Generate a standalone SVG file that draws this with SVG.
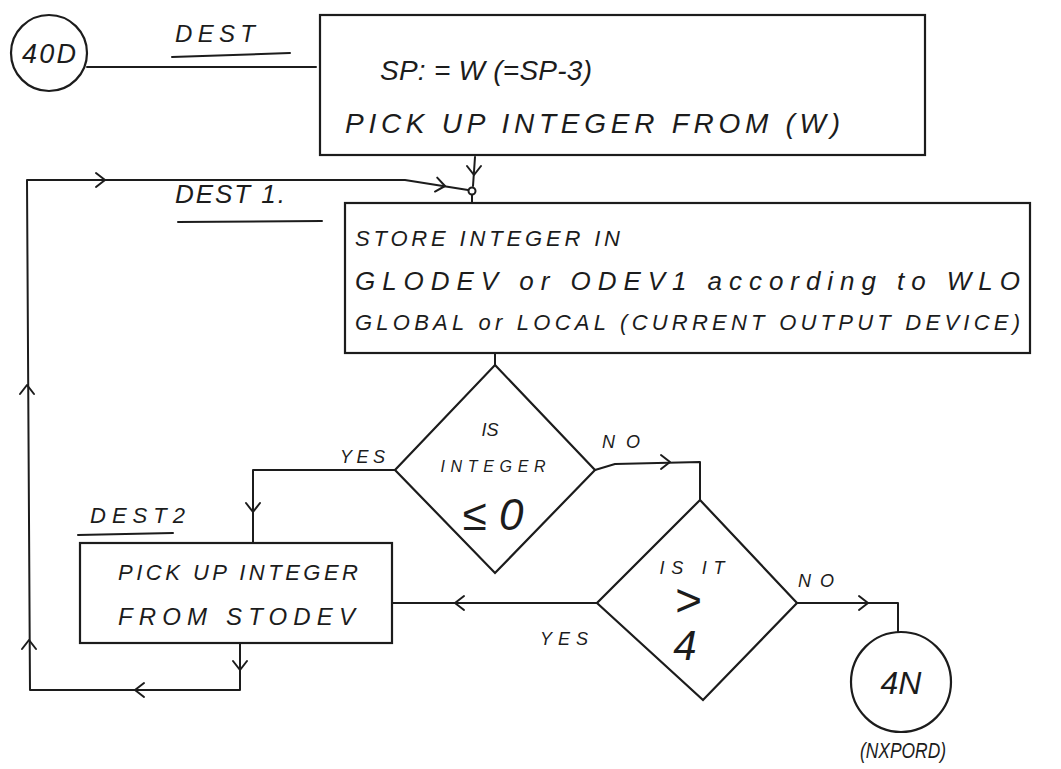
<svg xmlns="http://www.w3.org/2000/svg" xmlns:xlink="http://www.w3.org/1999/xlink" width="1061" height="769" viewBox="0 0 1061 769">
<style>
.ln{fill:none;stroke:#1c1c1c;stroke-width:2;stroke-linecap:round;stroke-linejoin:round}
.shape{fill:none;stroke:#1c1c1c;stroke-width:2.2}
.t{font-family:"Liberation Sans",Arial,sans-serif;fill:#1c1c1c;font-style:italic}
.c{text-anchor:middle}
</style>
<defs>
<path id="chev" d="M-9,-7 L0,0 L-9,7" fill="none" stroke="#1c1c1c" stroke-width="2" stroke-linecap="round" stroke-linejoin="round"/>
</defs>
<rect width="1061" height="769" fill="#ffffff"/>

<g id="connectors">
<path class="ln" d="M87,67 L316,67"/>
<path class="ln" d="M475,157 L473,186"/>
<use href="#chev" transform="translate(474,175) rotate(90)"/>
<path class="ln" d="M240,643 L240,690 L35,690 L30,690 L27,180 L405,180 L468,190"/>
<use href="#chev" transform="translate(240,670) rotate(90)"/>
<use href="#chev" transform="translate(135,690) rotate(180)"/>
<use href="#chev" transform="translate(29,640) rotate(-90)"/>
<use href="#chev" transform="translate(27,385) rotate(-90)"/>
<use href="#chev" transform="translate(105,180)"/>
<use href="#chev" transform="translate(445,186) rotate(9)"/>
<circle cx="472" cy="191" r="3.5" class="ln"/>
<path class="ln" d="M472,195 L472,203"/>
<path class="ln" d="M495,353 L495,365"/>
<path class="ln" d="M395,470 L253,470 L253,543"/>
<use href="#chev" transform="translate(253,512) rotate(90)"/>
<path class="ln" d="M595,470 L615,464 L700,462 L700,500"/>
<use href="#chev" transform="translate(670,462)"/>
<path class="ln" d="M597,603 L392,603"/>
<use href="#chev" transform="translate(455,603) rotate(180)"/>
<path class="ln" d="M797,603 L898,603 L898,632"/>
<use href="#chev" transform="translate(868,603)"/>
<path class="ln" d="M172,57 L290,53"/>
<path class="ln" d="M178,222 L322,221"/>
<path class="ln" d="M78,535 L173,533"/>
</g>

<g id="n40D">
<circle cx="49" cy="53" r="38" class="shape"/>
<text class="t c" x="49" y="63" font-size="27" textLength="54">40D</text>
</g>
<text class="t" x="175" y="42" font-size="24" textLength="80">DEST</text>

<g id="box1">
<rect x="320" y="15" width="605" height="140" class="shape"/>
<text class="t" x="380" y="80" font-size="28" textLength="212">SP: = W (=SP-3)</text>
<text class="t" x="345" y="133" font-size="28" textLength="495">PICK UP INTEGER FROM (W)</text>
</g>

<text class="t" x="175" y="203" font-size="26" textLength="110">DEST 1.</text>

<g id="box2">
<rect x="345" y="203" width="685" height="150" class="shape"/>
<text class="t" x="355" y="246" font-size="22" textLength="265">STORE INTEGER IN</text>
<text class="t" x="355" y="290" font-size="26" textLength="665">GLODEV or ODEV1 according to WLO</text>
<text class="t" x="355" y="330" font-size="22" textLength="665">GLOBAL or LOCAL (CURRENT OUTPUT DEVICE)</text>
</g>

<g id="dec1">
<path class="shape" d="M495,365 L595,470 L495,573 L395,470 Z"/>
<text class="t c" x="490" y="436" font-size="18">IS</text>
<text class="t c" x="493" y="472" font-size="16" textLength="105">INTEGER</text>
<text class="t c" x="493" y="530" font-size="44">≤ 0</text>
</g>
<text class="t" x="340" y="463" font-size="18" textLength="45">YES</text>
<text class="t" x="602" y="448" font-size="18" textLength="38">NO</text>

<text class="t" x="90" y="523" font-size="22" textLength="95">DEST2</text>
<g id="box3">
<rect x="80" y="543" width="312" height="100" class="shape"/>
<text class="t" x="118" y="580" font-size="22" textLength="240">PICK UP INTEGER</text>
<text class="t" x="118" y="625" font-size="24" textLength="237">FROM STODEV</text>
</g>

<g id="dec2">
<path class="shape" d="M700,500 L797,603 L703,700 L597,603 Z"/>
<text class="t c" x="692" y="574" font-size="18" textLength="65">IS IT</text>
<text class="t c" x="688" y="616" font-size="46">&gt;</text>
<text class="t c" x="685" y="660" font-size="42">4</text>
</g>
<text class="t" x="540" y="645" font-size="18" textLength="48">YES</text>
<text class="t" x="798" y="587" font-size="18" textLength="36">NO</text>

<g id="n4N">
<circle cx="901" cy="682" r="50" class="shape"/>
<text class="t c" x="901" y="694" font-size="32">4N</text>
<text class="t c" x="903" y="758" font-size="22" textLength="86" lengthAdjust="spacingAndGlyphs">(NXPORD)</text>
</g>
</svg>
